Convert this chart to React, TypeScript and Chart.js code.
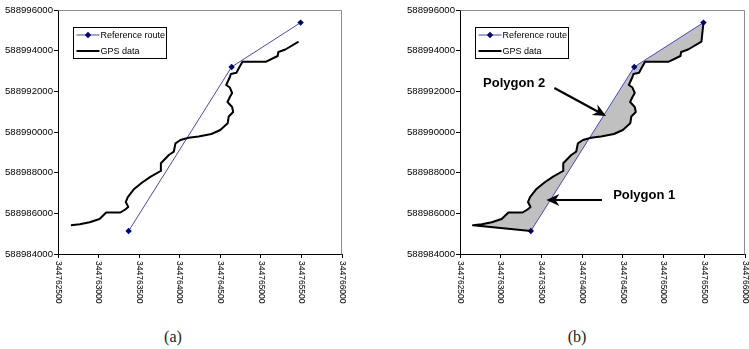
import React, { useEffect, useRef } from 'react';
import { Chart, registerables } from 'chart.js';

Chart.register(...registerables);

// ---------- data ----------
const SERIES_LABELS = ['Reference route', 'GPS data'];

const REF_X = [344763370, 344764640, 344765490];
const REF_Y = [588985130, 588993200, 588995380];

const GPS_X = [
  344762659, 344762768, 344762890, 344763012, 344763094, 344763268, 344763329,
  344763366, 344763335, 344763360, 344763439, 344763537, 344763643, 344763765,
  344763768, 344763866, 344763927, 344763948, 344764009, 344764110, 344764232,
  344764390, 344764500, 344764591, 344764604, 344764659, 344764646, 344764589,
  344764618, 344764646, 344764618, 344764573, 344764618, 344764630, 344764699,
  344764728, 344764773, 344765065, 344765207, 344765216, 344765302, 344765465,
];
const GPS_Y = [
  588985411, 588985461, 588985559, 588985721, 588986041, 588986041, 588986189,
  588986311, 588986557, 588986803, 588987197, 588987516, 588987802, 588988082,
  588988461, 588988869, 588989031, 588989444, 588989607, 588989720, 588989779,
  588989902, 588990098, 588990428, 588990762, 588990984, 588991229, 588991475,
  588991721, 588991918, 588992188, 588992311, 588992705, 588992852, 588992916,
  588993133, 588993457, 588993457, 588993738, 588993934, 588994057, 588994441,
];

const X_TICKS = [
  344762500, 344763000, 344763500, 344764000, 344764500, 344765000, 344765500, 344766000,
];
const Y_TICKS = [
  588984000, 588986000, 588988000, 588990000, 588992000, 588994000, 588996000,
];

const POLYGON_LABELS = ['Polygon 1', 'Polygon 2'];
const POLYGON_LABEL_X = [344764762, 344763165];
const POLYGON_LABEL_Y = [588986902, 588992410];
const ARROW_FROM_X = [344764244, 344763659];
const ARROW_FROM_Y = [588986656, 588992164];
const ARROW_TO_X = [344763561, 344764293];
const ARROW_TO_Y = [588986656, 588990787];

const CAPTIONS = ['(a)', '(b)'];

// ---------- helpers ----------
const SANS = '"Liberation Sans", Arial, sans-serif';
const REF_LINE = '#4646c4';
const REF_POINT = '#000080';

const pts = (xs: number[], ys: number[]) => xs.map((x, i) => ({ x, y: ys[i] }));

const framePlugin = {
  id: 'frame',
  beforeDatasetsDraw(chart: any) {
    const { ctx, chartArea } = chart;
    const l = Math.round(chartArea.left) + 0.5;
    const t = Math.round(chartArea.top) + 0.5;
    const r = Math.round(chartArea.right) - 0.5;
    const b = Math.round(chartArea.bottom) + 0.5;
    ctx.save();
    ctx.strokeStyle = '#8c8c8c';
    ctx.lineWidth = 1;
    ctx.beginPath();
    ctx.moveTo(l, t);
    ctx.lineTo(r, t);
    ctx.lineTo(r, b);
    ctx.stroke();
    ctx.restore();
  },
};

const xLabelPlugin = {
  id: 'xLabels',
  afterDraw(chart: any) {
    const { ctx, chartArea } = chart;
    const sx = chart.scales.x;
    ctx.save();
    ctx.font = `8.5px ${SANS}`;
    ctx.fillStyle = '#000';
    ctx.textAlign = 'left';
    ctx.textBaseline = 'middle';
    sx.ticks.forEach((t: any) => {
      const px = sx.getPixelForValue(t.value);
      ctx.save();
      ctx.translate(px, chartArea.bottom + 7);
      ctx.rotate(Math.PI / 2);
      ctx.fillText(String(t.value), 0, 0);
      ctx.restore();
    });
    ctx.restore();
  },
};

const legendPlugin = {
  id: 'boxLegend',
  afterDraw(chart: any) {
    const { ctx, chartArea } = chart;
    const bx = Math.round(chartArea.left + 15) + 0.5;
    const by = Math.round(chartArea.top + 16.5) + 0.5;
    const bw = 93;
    const bh = 31;
    ctx.save();
    ctx.fillStyle = '#fff';
    ctx.fillRect(bx, by, bw, bh);
    ctx.strokeStyle = '#000';
    ctx.lineWidth = 1;
    ctx.strokeRect(bx, by, bw, bh);
    const rows = [by + 7.5, by + 23.5];
    // row 1: reference route
    ctx.strokeStyle = REF_LINE;
    ctx.lineWidth = 1;
    ctx.beginPath();
    ctx.moveTo(bx + 3, rows[0]);
    ctx.lineTo(bx + 26, rows[0]);
    ctx.stroke();
    const cx = bx + 14.5;
    const cy = rows[0];
    ctx.fillStyle = REF_POINT;
    ctx.beginPath();
    ctx.moveTo(cx, cy - 3.2);
    ctx.lineTo(cx + 3.2, cy);
    ctx.lineTo(cx, cy + 3.2);
    ctx.lineTo(cx - 3.2, cy);
    ctx.closePath();
    ctx.fill();
    // row 2: gps
    ctx.strokeStyle = '#000';
    ctx.lineWidth = 2;
    ctx.beginPath();
    ctx.moveTo(bx + 3, rows[1]);
    ctx.lineTo(bx + 26, rows[1]);
    ctx.stroke();
    ctx.fillStyle = '#000';
    ctx.font = `9px ${SANS}`;
    ctx.textAlign = 'left';
    ctx.textBaseline = 'middle';
    ctx.fillText(SERIES_LABELS[0], bx + 27, rows[0] + 0.5);
    ctx.fillText(SERIES_LABELS[1], bx + 27, rows[1] + 0.5);
    ctx.restore();
  },
};

const annotationPlugin = {
  id: 'polyAnnotations',
  afterDraw(chart: any) {
    const { ctx } = chart;
    const sx = chart.scales.x;
    const sy = chart.scales.y;
    ctx.save();
    ctx.fillStyle = '#000';
    ctx.strokeStyle = '#000';
    ctx.font = `bold 13px ${SANS}`;
    ctx.textAlign = 'center';
    ctx.textBaseline = 'middle';
    POLYGON_LABELS.forEach((label, i) => {
      ctx.fillText(label, sx.getPixelForValue(POLYGON_LABEL_X[i]), sy.getPixelForValue(POLYGON_LABEL_Y[i]));
      const fx = sx.getPixelForValue(ARROW_FROM_X[i]);
      const fy = sy.getPixelForValue(ARROW_FROM_Y[i]);
      const tx = sx.getPixelForValue(ARROW_TO_X[i]);
      const ty = sy.getPixelForValue(ARROW_TO_Y[i]);
      const ang = Math.atan2(ty - fy, tx - fx);
      const dx = Math.cos(ang);
      const dy = Math.sin(ang);
      const L = 13;
      const W = 6;
      const N = 9;
      ctx.lineWidth = 2.2;
      ctx.beginPath();
      ctx.moveTo(fx, fy);
      ctx.lineTo(tx - dx * N, ty - dy * N);
      ctx.stroke();
      ctx.beginPath();
      ctx.moveTo(tx, ty);
      ctx.lineTo(tx - dx * L - dy * W, ty - dy * L + dx * W);
      ctx.lineTo(tx - dx * N, ty - dy * N);
      ctx.lineTo(tx - dx * L + dy * W, ty - dy * L - dx * W);
      ctx.closePath();
      ctx.fill();
    });
    ctx.restore();
  },
};

function makeConfig(variant: 'a' | 'b', yAxisWidth: number): any {
  const ref = pts(REF_X, REF_Y);
  const gps = pts(GPS_X, GPS_Y);
  const gpsLine = variant === 'a' ? gps : [ref[0], ...gps, ref[2]];
  const datasets: any[] = [
    {
      label: SERIES_LABELS[1],
      data: gpsLine,
      borderColor: '#000',
      borderWidth: 2,
      borderJoinStyle: 'round',
      pointRadius: 0,
      fill: false,
      order: 0,
    },
    {
      label: SERIES_LABELS[0],
      data: ref,
      borderColor: REF_LINE,
      borderWidth: 1,
      pointStyle: 'rectRot',
      pointRadius: 3.2,
      pointBackgroundColor: REF_POINT,
      pointBorderColor: REF_POINT,
      pointBorderWidth: 0,
      fill: false,
      order: 1,
    },
  ];
  if (variant === 'b') {
    datasets.push({
      label: 'polygons',
      data: [ref[0], ...gps, ref[2], ref[1], ref[0]],
      borderWidth: 0,
      borderColor: 'rgba(0,0,0,0)',
      backgroundColor: '#c0c0c0',
      fill: 'shape',
      pointRadius: 0,
      order: 2,
    });
  }
  const plugins: any[] = [framePlugin, xLabelPlugin, legendPlugin];
  if (variant === 'b') plugins.push(annotationPlugin);
  return {
    type: 'line',
    data: { datasets },
    plugins,
    options: {
      responsive: false,
      animation: false,
      devicePixelRatio: 1,
      events: [],
      layout: { padding: { top: 10, right: 1, left: 0, bottom: 0 } },
      plugins: { legend: { display: false }, tooltip: { enabled: false } },
      scales: {
        x: {
          type: 'linear',
          min: X_TICKS[0],
          max: X_TICKS[X_TICKS.length - 1],
          afterBuildTicks: (s: any) => {
            s.ticks = X_TICKS.map((v) => ({ value: v }));
          },
          ticks: { display: false },
          grid: { drawOnChartArea: false, drawTicks: true, tickLength: 4, color: '#000' },
          border: { display: true, color: '#000', width: 1 },
          afterFit: (s: any) => {
            s.height = 56;
          },
        },
        y: {
          type: 'linear',
          min: Y_TICKS[0],
          max: Y_TICKS[Y_TICKS.length - 1],
          afterBuildTicks: (s: any) => {
            s.ticks = Y_TICKS.map((v) => ({ value: v }));
          },
          ticks: {
            font: { family: SANS, size: 9.6 },
            color: '#000',
            padding: 1,
            callback: (v: any) => String(v),
          },
          grid: { drawOnChartArea: false, drawTicks: true, tickLength: 4, color: '#000' },
          border: { display: true, color: '#000', width: 1 },
          afterFit: (s: any) => {
            s.width = yAxisWidth;
          },
        },
      },
    },
  };
}

function Panel(props: { variant: 'a' | 'b'; left: number; width: number; yAxisWidth: number }) {
  const ref = useRef<HTMLCanvasElement | null>(null);
  useEffect(() => {
    if (!ref.current) return;
    const chart = new Chart(ref.current, makeConfig(props.variant, props.yAxisWidth));
    return () => chart.destroy();
  }, [props.variant, props.yAxisWidth]);
  return (
    <canvas
      ref={ref}
      width={props.width}
      height={310}
      style={{ position: 'absolute', left: props.left, top: 0, width: props.width, height: 310 }}
    />
  );
}

export default function App() {
  const captionStyle = (left: number, width: number): React.CSSProperties => ({
    position: 'absolute',
    left,
    width,
    top: 328,
    textAlign: 'center',
    fontFamily: '"Liberation Serif", "Times New Roman", serif',
    fontSize: 16,
    lineHeight: '18px',
    color: '#222',
  });
  return (
    <div
      style={{
        position: 'absolute',
        left: 0,
        top: 0,
        width: 749,
        height: 349,
        background: '#fff',
        overflow: 'hidden',
      }}
    >
      <Panel variant="a" left={0} width={346} yAxisWidth={58} />
      <Panel variant="b" left={405} width={344} yAxisWidth={55} />
      <div style={captionStyle(0, 346)}>{CAPTIONS[0]}</div>
      <div style={captionStyle(405, 344)}>{CAPTIONS[1]}</div>
    </div>
  );
}
